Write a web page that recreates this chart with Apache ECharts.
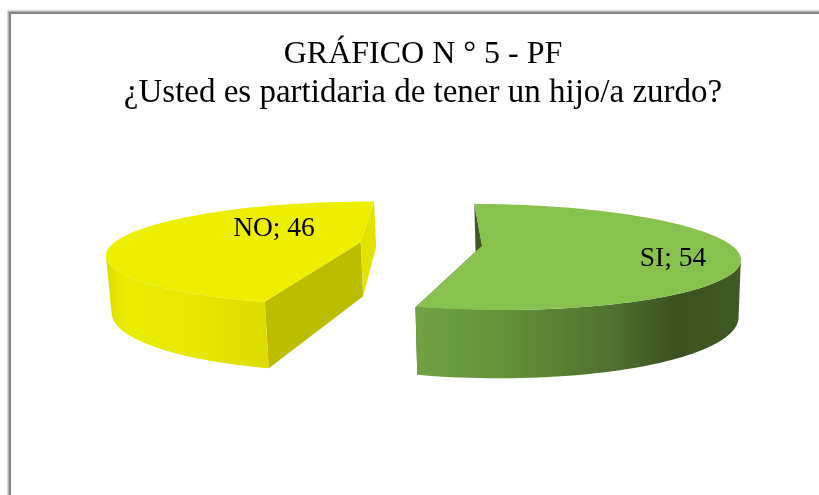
<!DOCTYPE html>
<html>
<head>
<meta charset="utf-8">
<title>Gráfico 5</title>
<script src="https://cdn.jsdelivr.net/npm/echarts@6/dist/echarts.min.js"></script>
<style>
  html, body { margin: 0; padding: 0; background: #fff; }
  #chart { width: 819px; height: 495px; }
</style>
</head>
<body>
<div id="chart"></div>
<script>
  // data
  var categories = ['SI', 'NO'];
  var values = [54, 46];
  var titleLines = ['GRÁFICO N ° 5 - PF', '¿Usted es partidaria de tener un hijo/a zurdo?'];

  var labelPositions = [[673, 259], [274, 229]];

  // perspective camera of the 3D pie
  var view = {
    x0: 421, y0: 244,   // screen position of the pie centre
    fx: 248, fz: 50,    // scale of the disc, across and in depth
    persp: 0.21,        // how fast things shrink towards the back
    height: 55,         // thickness of the pie
    heightPersp: 0.012,
    heightShift: 1.7,   // the bottom face sits a little to the right of the top one
    explode: 0.247,
    startAngle: 0.8
  };

  // colours per slice: top, wall gradient, cut faces at the start and end of the slice
  var sliceStyles = [
    {
      top: '#87c14e',
      wall: [[0, '#70a243'], [0.3, '#629038'], [0.6, '#4f7230'], [0.8, '#3a5220'], [1, '#3f5b23']],
      faceStart: '#3f5a22',
      faceEnd: '#3f5a22'
    },
    {
      top: '#eeee00',
      wall: [[0, '#dcdc00'], [0.12, '#ecec00'], [0.5, '#e8e800'], [1, '#dcdc00']],
      faceStart: '#bdbd00',
      faceEnd: '#e2e200'
    }
  ];

  // project a point of the pie on the screen. depth 0 = top face, 1 = bottom face
  function project(X, Z, depth) {
    var w = 1 - view.persp * Z + view.heightPersp * depth;
    return [
      view.x0 + view.fx * X / w + view.heightShift * depth,
      view.y0 + (view.fz * Z + view.height * depth) / w
    ];
  }

  // angle is clockwise from the back of the pie, in degrees
  function rimPoint(angle, cx, cz, depth) {
    var a = angle * Math.PI / 180;
    return project(cx + Math.sin(a), cz - Math.cos(a), depth);
  }

  // only the part of a rim running right to left faces the viewer
  function visibleRim(arc) {
    return arc.filter(function (p, q) {
      return q < arc.length - 1 ? arc[q + 1][0] < p[0] : p[0] < arc[q - 1][0];
    });
  }

  function poly(points, fill) {
    return {type: 'polygon', shape: {points: points}, style: {fill: fill}};
  }

  function renderSlice(params, api) {
    var i = params.dataIndex;
    var total = values.reduce(function (a, b) { return a + b; }, 0);
    var before = 0;
    for (var k = 0; k < i; k++) before += values[k];
    var start = view.startAngle + before / total * 360;
    var end = start + api.value(0) / total * 360;

    // every slice moves away from the centre along its own bisector
    var mid = (start + end) / 2 * Math.PI / 180;
    var cx = view.explode * Math.sin(mid);
    var cz = -view.explode * Math.cos(mid);
    var style = sliceStyles[i];

    var steps = 120;
    var topArc = [], bottomArc = [];
    for (var s = 0; s <= steps; s++) {
      var ang = start + (end - start) * s / steps;
      topArc.push(rimPoint(ang, cx, cz, 0));
      bottomArc.push(rimPoint(ang, cx, cz, 1));
    }
    var apexTop = project(cx, cz, 0);
    var apexBottom = project(cx, cz, 1);

    var wall = visibleRim(topArc).concat(visibleRim(bottomArc).reverse());
    var xs = wall.map(function (p) { return p[0]; });
    var wallFill = {
      type: 'linear',
      global: true,
      x: Math.min.apply(null, xs), y: 0,
      x2: Math.max.apply(null, xs), y2: 0,
      colorStops: style.wall.map(function (c) { return {offset: c[0], color: c[1]}; })
    };

    var label = {
      type: 'text',
      x: labelPositions[i][0],
      y: labelPositions[i][1],
      style: {
        text: categories[i] + '; ' + values[i],
        fill: '#000',
        font: '27.5px "Liberation Serif"',
        align: 'center',
        verticalAlign: 'middle'
      }
    };

    return {
      type: 'group',
      children: [
        poly([topArc[0], apexTop, apexBottom, bottomArc[0]], style.faceStart),
        poly([topArc[steps], apexTop, apexBottom, bottomArc[steps]], style.faceEnd),
        poly(wall, wallFill),
        poly(topArc.concat([apexTop]), style.top),
        label
      ]
    };
  }

  var chart = echarts.init(document.getElementById('chart'), null, {renderer: 'canvas'});

  chart.setOption({
    animation: false,
    backgroundColor: '#fff',
    title: {
      text: '{l1|' + titleLines[0] + '}\n{l2|' + titleLines[1] + '}',
      left: 418,
      top: 30,
      textAlign: 'center',
      textStyle: {
        fontWeight: 'normal',
        rich: {
          l1: {fontFamily: 'Liberation Serif', fontSize: 32, fontWeight: 'normal', color: '#000', lineHeight: 39},
          l2: {fontFamily: 'Liberation Serif', fontSize: 33, fontWeight: 'normal', color: '#000', lineHeight: 39}
        }
      }
    },
    // chart frame, only its top and left edges are inside the picture
    graphic: [
      {type: 'rect', shape: {x: 9, y: 12, width: 900, height: 600}, style: {fill: 'none', stroke: '#b4b4b4', lineWidth: 3}, silent: true, z: -1},
      {type: 'rect', shape: {x: 10, y: 13, width: 900, height: 600}, style: {fill: 'none', stroke: '#858585', lineWidth: 2}, silent: true, z: -1}
    ],
    series: [{
      type: 'custom',
      coordinateSystem: 'none',
      renderItem: renderSlice,
      data: values.map(function (v, i) { return {name: categories[i], value: [v]}; })
    }]
  });
</script>
</body>
</html>
